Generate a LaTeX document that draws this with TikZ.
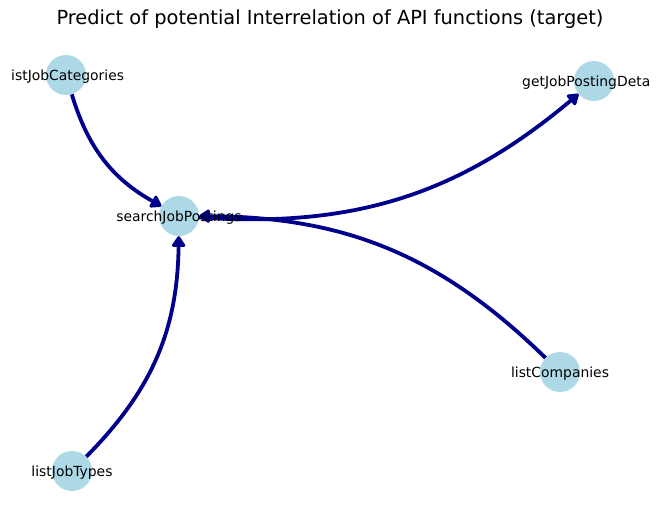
\documentclass[tikz,border=0pt]{standalone}
\usepackage{fontspec}
\setmainfont{DejaVu Sans}
\usetikzlibrary{arrows.meta}
\definecolor{nodeblue}{HTML}{ADD8E6}
\definecolor{edgeblue}{HTML}{00008B}
\begin{document}
\begin{tikzpicture}[x=1pt,y=-1pt,
  vertex/.style={circle,fill=nodeblue,draw=none,minimum size=40pt,inner sep=0pt},
  lbl/.style={font=\fontsize{13.9pt}{16pt}\selectfont,inner sep=0pt,yshift=-1.5pt},
  edge/.style={draw=edgeblue,line width=3.8pt,-{Triangle[length=12pt,width=15pt,round]},bend right=22},
  ttl/.style={font=\fontsize{19.4pt}{22pt}\selectfont,inner sep=0pt}]
\useasboundingbox (0,0) rectangle (660,523);
\node[ttl] (title) at (330,19) {Predict of potential Interrelation of API functions (target)};
\node[vertex] (cat) at (66,75) {};
\node[vertex] (get) at (594,81) {};
\node[vertex] (search) at (179,216) {};
\node[vertex] (comp) at (560,372) {};
\node[vertex] (types) at (72,471) {};
\draw[edge] (cat) to (search);
\draw[edge] (types) to (search);
\draw[edge] (comp) to (search);
\draw[edge] (search) to (get);
\node[lbl,anchor=west] (lcat) at (11,75) {istJobCategories};
\node[lbl,anchor=west] (lget) at (522,81) {getJobPostingDeta};
\node[lbl] (lsearch) at (179,216) {searchJobPostings};
\node[lbl] (lcomp) at (560,372) {listCompanies};
\node[lbl] (ltypes) at (72,471) {listJobTypes};
\end{tikzpicture}
\end{document}
